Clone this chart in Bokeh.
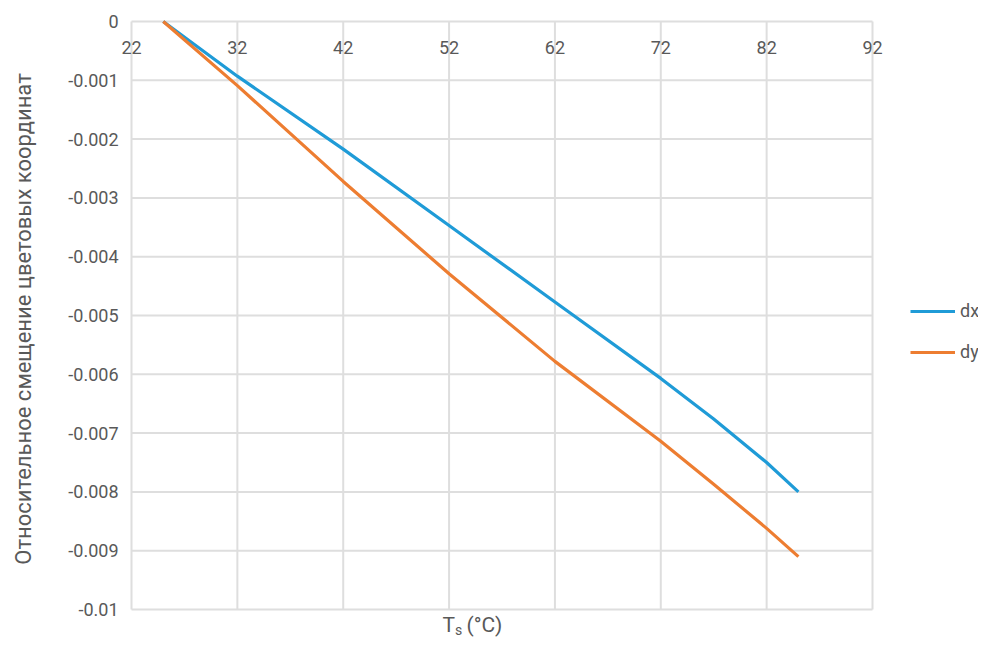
from bokeh.plotting import figure
from bokeh.models import FixedTicker, Legend, LegendItem, Range1d
from bokeh.core.properties import value
from bokeh.embed import file_html
from bokeh.resources import INLINE

# ---- data ----
temps = [25, 32, 42, 52, 62, 72, 77, 82, 85]
dx = [0.0, -0.00093, -0.00217, -0.00347, -0.00477, -0.00607, -0.00676, -0.00750, -0.00800]
dy = [0.0, -0.00109, -0.00272, -0.00429, -0.00578, -0.00714, -0.00787, -0.00862, -0.00910]

x_ticks = [22, 32, 42, 52, 62, 72, 82, 92]
x_tick_labels = ["22", "32", "42", "52", "62", "72", "82", "92"]
y_ticks = [0.0, -0.001, -0.002, -0.003, -0.004, -0.005, -0.006, -0.007, -0.008, -0.009, -0.01]
y_tick_labels = ["0", "-0.001", "-0.002", "-0.003", "-0.004", "-0.005", "-0.006",
                 "-0.007", "-0.008", "-0.009", "-0.01"]
series_names = ["dx", "dy"]
y_title = "Относительное смещение цветовых координат"
x_title_main = "T"
x_title_sub = "s"
x_title_unit = "(°C)"

FONT = "Roboto"
TXT = "#595959"
GRID = "#dedede"
BLUE = "#1f9bd7"
ORANGE = "#ed7d31"

W, H = 978, 637
FRAME_LEFT = 119
# plot-area geometry (pixels) of the grid box
GX0, GX1, GY0, GY1 = 131, 872, 21, 609
xmin, xmax = x_ticks[0], x_ticks[-1]
ymin, ymax = y_ticks[-1], y_ticks[0]
ppx = (GX1 - GX0) / (xmax - xmin)
ppy = (GY1 - GY0) / (ymax - ymin)
x_range = Range1d(xmin - (GX0 - FRAME_LEFT) / ppx, xmax + (W - GX1) / ppx)
y_range = Range1d(ymin - (H - GY1) / ppy, ymax + GY0 / ppy)

p = figure(width=W, height=H, output_backend="svg", toolbar_location=None,
           x_range=x_range, y_range=y_range, x_axis_location=None,
           min_border_left=FRAME_LEFT, min_border_right=0, min_border_top=0,
           min_border_bottom=0)
p.outline_line_color = None
p.grid.visible = False
p.background_fill_color = "white"

# grid box drawn from the tick arrays
p.segment(x0=x_ticks, x1=x_ticks, y0=[ymin] * len(x_ticks), y1=[ymax] * len(x_ticks),
          line_color=GRID, line_width=2)
p.segment(x0=[xmin] * len(y_ticks), x1=[xmax] * len(y_ticks), y0=y_ticks, y1=y_ticks,
          line_color=GRID, line_width=2)

# y axis
ya = p.yaxis[0]
ya.ticker = FixedTicker(ticks=y_ticks)
ya.major_label_overrides = dict(zip(y_ticks, y_tick_labels))
ya.axis_line_color = None
ya.major_tick_line_color = None
ya.minor_tick_line_color = None
ya.major_tick_out = 0
ya.major_tick_in = 0
ya.major_label_text_font = FONT
ya.major_label_text_font_size = "18px"
ya.major_label_text_color = TXT
ya.major_label_standoff = 1
ya.axis_label = y_title
ya.axis_label_text_font = FONT
ya.axis_label_text_font_size = "22px"
ya.axis_label_text_font_style = "normal"
ya.axis_label_text_color = TXT
ya.axis_label_standoff = 29

# x tick labels just under the y = 0 line
p.text(x=x_ticks, y=[ymax] * len(x_ticks), text=x_tick_labels, y_offset=19,
       text_align="center", text_baseline="top", text_font=value(FONT),
       text_font_size="18px", text_color=TXT)

# series
r1 = p.line(temps, dx, line_color=BLUE, line_width=3.2)
r2 = p.line(temps, dy, line_color=ORANGE, line_width=3.2)

# x title "Ts (°C)" with subscript s
bottom_y = ymin - (636 - GY1) / ppy
def xpix(px):
    return xmin + (px - GX0) / ppx
p.text(x=[xpix(442)], y=[bottom_y], text=[x_title_main], text_align="left",
       text_baseline="bottom", text_font=value(FONT), text_font_size="21px",
       text_color=TXT)
p.text(x=[xpix(454.5)], y=[bottom_y], text=[x_title_sub], y_offset=1, text_align="left",
       text_baseline="bottom", text_font=value(FONT), text_font_size="14px",
       text_color=TXT)
p.text(x=[xpix(466)], y=[bottom_y], text=[x_title_unit], text_align="left",
       text_baseline="bottom", text_font=value(FONT), text_font_size="21px",
       text_color=TXT)

legend = Legend(items=[LegendItem(label=series_names[0], renderers=[r1]),
                       LegendItem(label=series_names[1], renderers=[r2])],
                location=(791, 275), padding=0, margin=0, spacing=20,
                glyph_width=45, glyph_height=20, label_standoff=5,
                label_text_font=FONT, label_text_font_size="18px",
                label_text_color=TXT, border_line_color=None,
                background_fill_alpha=0)
p.add_layout(legend)

open("out.html", "w").write(file_html(p, INLINE))
